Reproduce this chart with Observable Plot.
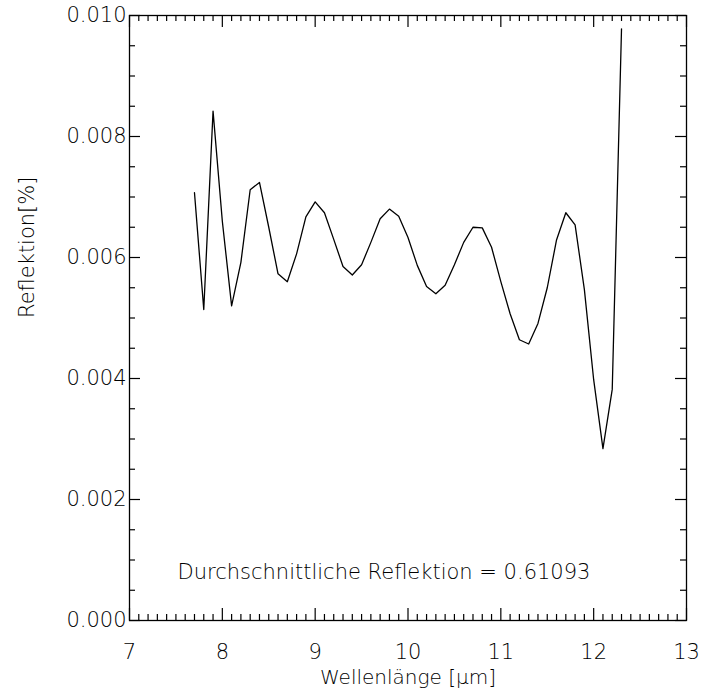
<!DOCTYPE html>
<html>
<head>
<meta charset="utf-8">
<script src="https://cdn.jsdelivr.net/npm/d3@7"></script>
<script src="https://cdn.jsdelivr.net/npm/@observablehq/plot@0.6"></script>
<style>
  html, body { margin: 0; padding: 0; background: #fff; }
  #chart { width: 704px; height: 691px; }
  svg { font-family: "DejaVu Sans", sans-serif; }
</style>
</head>
<body>
<div id="chart"></div>
<script>
// Wavelength (µm)
const wavelength = [7.7, 7.8, 7.9, 8.0, 8.1, 8.2, 8.3, 8.4, 8.5, 8.6, 8.7, 8.8, 8.9, 9.0, 9.1, 9.2, 9.3, 9.4, 9.5, 9.6, 9.7, 9.8, 9.9, 10.0, 10.1, 10.2, 10.3, 10.4, 10.5, 10.6, 10.7, 10.8, 10.9, 11.0, 11.1, 11.2, 11.3, 11.4, 11.5, 11.6, 11.7, 11.8, 11.9, 12.0, 12.1, 12.2, 12.3];
// Reflection values
const reflection = [0.00707, 0.00514, 0.00842, 0.0066, 0.0052, 0.00592, 0.00712, 0.00724, 0.0065, 0.00573, 0.0056, 0.00606, 0.00667, 0.00692, 0.00674, 0.0063, 0.00585, 0.00571, 0.00588, 0.00625, 0.00664, 0.0068, 0.00668, 0.00633, 0.00587, 0.00552, 0.0054, 0.00554, 0.00588, 0.00625, 0.0065, 0.00649, 0.00617, 0.0056, 0.00507, 0.00464, 0.00457, 0.00491, 0.0055, 0.00629, 0.00674, 0.00654, 0.00547, 0.00398, 0.00284, 0.00382, 0.00978];

const xMajorTicks = [7, 8, 9, 10, 11, 12, 13];
const xMinorTicks = d3.range(70, 131).map(d => d / 10).filter(d => !xMajorTicks.includes(d));
const yMajorTicks = [0, 0.002, 0.004, 0.006, 0.008, 0.010];
const yMinorTicks = d3.range(0, 21).map(d => d * 0.0005).filter(d => Math.round(d * 10000) % 20 !== 0);

const xLabel = "Wellenlänge [μm]";
const yLabel = "Reflektion[%]";
const annotation = "Durchschnittliche Reflektion = 0.61093";

const data = wavelength.map((w, i) => ({w, r: reflection[i]}));

const W = 704, H = 691;
const mL = 129, mR = 18, mT = 15, mB = 71;
const innerW = W - mL - mR, innerH = H - mT - mB;
const txt = "#000";

const chart = Plot.plot({
  width: W,
  height: H,
  marginLeft: mL,
  marginRight: mR,
  marginTop: mT,
  marginBottom: mB,
  style: {fontSize: "21px", fontFamily: "'DejaVu Sans', sans-serif", fontWeight: 300, background: "#fff", color: "#000"},
  x: {domain: [7, 13]},
  y: {domain: [0, 0.010]},
  marks: [
    Plot.frame({stroke: "#000", strokeWidth: 1.3}),
    // inward ticks bottom/top
    Plot.tickX(xMajorTicks, {x: d => d, insetTop: innerH - 12, stroke: "#000", strokeWidth: 1.2}),
    Plot.tickX(xMinorTicks, {x: d => d, insetTop: innerH - 6, stroke: "#000", strokeWidth: 1.2}),
    Plot.tickX(xMajorTicks, {x: d => d, insetBottom: innerH - 12, stroke: "#000", strokeWidth: 1.2}),
    Plot.tickX(xMinorTicks, {x: d => d, insetBottom: innerH - 6, stroke: "#000", strokeWidth: 1.2}),
    // inward ticks left/right
    Plot.tickY(yMajorTicks, {y: d => d, insetRight: innerW - 11, stroke: "#000", strokeWidth: 1.2}),
    Plot.tickY(yMinorTicks, {y: d => d, insetRight: innerW - 6, stroke: "#000", strokeWidth: 1.2}),
    Plot.tickY(yMajorTicks, {y: d => d, insetLeft: innerW - 11, stroke: "#000", strokeWidth: 1.2}),
    Plot.tickY(yMinorTicks, {y: d => d, insetLeft: innerW - 6, stroke: "#000", strokeWidth: 1.2}),
    Plot.axisX(xMajorTicks, {anchor: "bottom", tickSize: 0, tickPadding: 24, tickFormat: d => String(d), fill: txt, label: null}),
    Plot.axisY(yMajorTicks, {anchor: "left", tickSize: 0, tickPadding: 3, tickFormat: d3.format(".3f"), fill: txt, label: null, style: {letterSpacing: "1.5px"}}),
    Plot.line(data, {x: "w", y: "r", stroke: "#000", strokeWidth: 1.3}),
    Plot.text([annotation], {text: d => d, frameAnchor: "bottom", dy: -42, dx: -24, fill: txt, fontSize: 21}),
    Plot.text([xLabel], {text: d => d, frameAnchor: "bottom", dy: 63, fill: txt, fontSize: 20}),
    Plot.text([yLabel], {text: d => d, frameAnchor: "left", dx: -102, rotate: -90, fill: txt, fontSize: 21})
  ]
});

document.getElementById("chart").appendChild(chart);
</script>
</body>
</html>
